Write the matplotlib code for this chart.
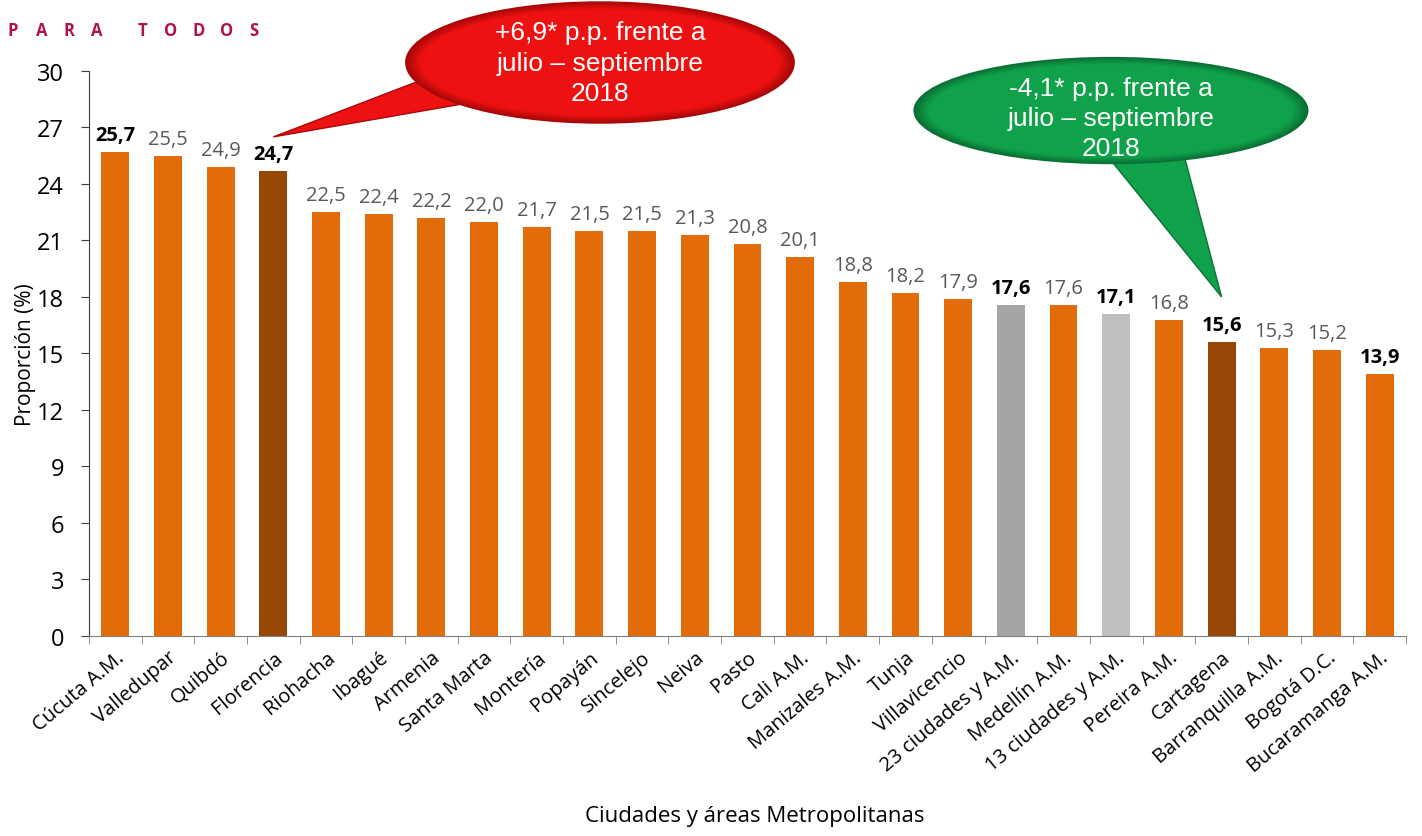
import matplotlib.pyplot as plt
from matplotlib.patches import Ellipse, Polygon
from matplotlib.colors import to_rgb
import numpy as np

plt.rcParams["font.family"] = ["Open Sans", "DejaVu Sans"]

# Data
cities = ["Cúcuta A.M.", "Valledupar", "Quibdó", "Florencia", "Riohacha", "Ibagué",
          "Armenia", "Santa Marta", "Montería", "Popayán", "Sincelejo", "Neiva",
          "Pasto", "Cali A.M.", "Manizales A.M.", "Tunja", "Villavicencio",
          "23 ciudades y A.M.", "Medellín A.M.", "13 ciudades y A.M.", "Pereira A.M.",
          "Cartagena", "Barranquilla A.M.", "Bogotá D.C.", "Bucaramanga A.M."]
values = [25.7, 25.5, 24.9, 24.7, 22.5, 22.4, 22.2, 22.0, 21.7, 21.5, 21.5, 21.3,
          20.8, 20.1, 18.8, 18.2, 17.9, 17.6, 17.6, 17.1, 16.8, 15.6, 15.3, 15.2, 13.9]
bold_labels = ["Cúcuta A.M.", "Florencia", "23 ciudades y A.M.", "13 ciudades y A.M.",
               "Cartagena", "Bucaramanga A.M."]
special_colors = {"Florencia": "#974706", "Cartagena": "#974706",
                  "23 ciudades y A.M.": "#A5A5A5", "13 ciudades y A.M.": "#BFBFBF"}
yticks = [0, 3, 6, 9, 12, 15, 18, 21, 24, 27, 30]

colors = [special_colors.get(c, "#E36C0A") for c in cities]
x = np.arange(len(cities))

fig = plt.figure(figsize=(14.22, 8.37), dpi=100)
ax = fig.add_axes([0.0626, 0.239, 0.9261, 0.675])

ax.bar(x, values, width=0.53, color=colors, zorder=2)

ax.set_xlim(-0.5, len(cities) - 0.5)
ax.set_ylim(0, 30)
ax.set_yticks(yticks)
ax.tick_params(axis="y", labelsize=17, direction="out", length=6, pad=12, color="#404040")

# x ticks between categories, labels at centers
ax.set_xticks(x)
ax.set_xticklabels(cities, rotation=40, ha="right", rotation_mode="anchor", fontsize=14.5)
ax.tick_params(axis="x", length=0, pad=8)
ax.set_xticks(np.arange(-0.5, len(cities)), minor=True)
ax.tick_params(axis="x", which="minor", length=6, color="#808080")

ax.spines[["top", "right"]].set_visible(False)
ax.spines["left"].set_color("#404040")
ax.spines["bottom"].set_color("#808080")

# value labels
for i, (c, v) in enumerate(zip(cities, values)):
    lab = f"{v:.1f}".replace(".", ",")
    if c in bold_labels:
        ax.annotate(lab, (i, v), xytext=(0, 5), textcoords="offset points",
                    ha="center", va="bottom", fontsize=14.5, fontweight="bold", color="black")
    else:
        ax.annotate(lab, (i, v), xytext=(0, 5), textcoords="offset points",
                    ha="center", va="bottom", fontsize=14.5, color="#595959")

ax.set_ylabel("Proporción (%)", fontsize=15, labelpad=1)
fig.text(0.531, 0.012, "Ciudades y áreas Metropolitanas", ha="center", va="bottom", fontsize=16)

# "PARA TODOS" header
header_x = [13, 42, 69, 97, 143, 171, 199, 227, 254]
for px, ch in zip(header_x, "PARATODOS"):
    fig.text(px / 1422, 1 - 31 / 837, ch, color="#B0124F", fontsize=12,
             fontweight="bold", ha="center", va="center")


def bubble(center, w, h, tail, base_col, dark_col, text, text_dy=0):
    # tail
    ax.add_patch(Polygon(tail, closed=True, facecolor=base_col, edgecolor=dark_col,
                         lw=1.0, clip_on=False, zorder=5))
    # shaded ellipse: dark rim to bright centre
    c0 = np.array(to_rgb(dark_col))
    c1 = np.array(to_rgb(base_col))
    n = 8
    for k in range(n):
        t = k / (n - 1)
        s = 1 - 0.12 * t
        col = c0 + (c1 - c0) * min(1, t * 1.6)
        ax.add_patch(Ellipse(center, w * s, h * (1 - 0.2 * t), facecolor=col,
                             edgecolor="none", clip_on=False, zorder=6))
    ax.text(center[0], center[1] + text_dy, text, ha="center", va="center", fontsize=19,
            color="white", family="Liberation Sans", linespacing=1.32,
            zorder=7, clip_on=False)


# red speech bubble (Florencia)
bubble((9.2, 30.45), 7.4, 6.5, [(5.7, 29.4), (6.9, 28.4), (3, 26.5)],
       "#EE1111", "#A80808", "+6,9* p.p. frente a\njulio – septiembre\n2018")

# green speech bubble (Cartagena)
bubble((18.9, 27.9), 7.5, 5.7, [(18.8, 25.6), (20.3, 25.4), (21, 18.0)],
       "#10A24A", "#0A7034", "-4,1* p.p. frente a\njulio – septiembre\n2018", text_dy=-0.4)

fig.savefig("out.png", dpi=100)
